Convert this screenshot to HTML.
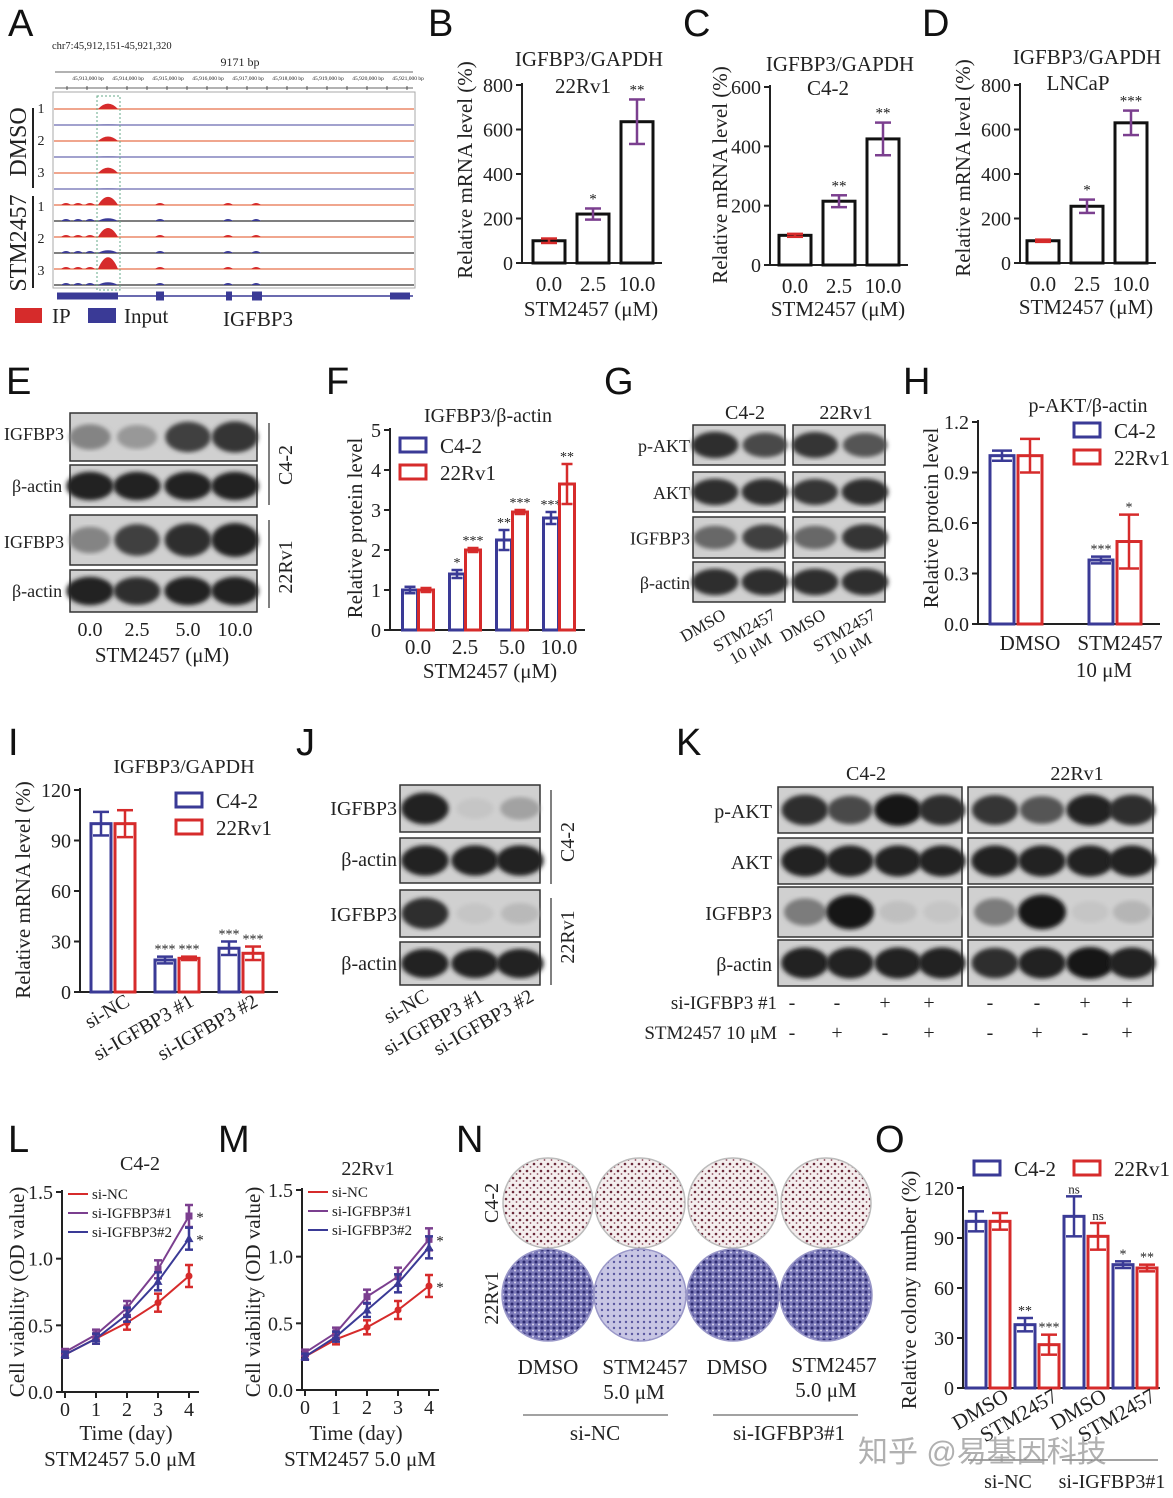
<!DOCTYPE html>
<html><head><meta charset="utf-8"><style>
html,body{margin:0;padding:0;background:#fff;}
svg{display:block;}
</style></head><body>
<svg id="fig" width="1173" height="1498" viewBox="0 0 1173 1498" xmlns="http://www.w3.org/2000/svg">
<defs>
<pattern id="dotsR" width="7" height="7" patternUnits="userSpaceOnUse"><rect width="7" height="7" fill="#f4eeee"/><circle cx="2" cy="2" r="1.3" fill="#6a2a3a"/><circle cx="5.5" cy="5" r="0.9" fill="#8a4a5a"/></pattern>
<pattern id="dotsB" width="6" height="6" patternUnits="userSpaceOnUse"><rect width="6" height="6" fill="#7a78b8"/><circle cx="2" cy="2" r="1.5" fill="#2c2a70"/><circle cx="5" cy="4.5" r="1" fill="#d8d6ee"/></pattern>
<pattern id="dotsB2" width="6" height="6" patternUnits="userSpaceOnUse"><rect width="6" height="6" fill="#c8c6e4"/><circle cx="2" cy="2" r="1.2" fill="#5a58a0"/></pattern>
<filter id="blur"><feGaussianBlur stdDeviation="2.2"/></filter>
</defs>
</svg>
<script>
const NS='http://www.w3.org/2000/svg';
const svg=document.getElementById('fig');
const SERIF='Liberation Serif, serif';
const BLUE='#3a3a96', RED='#d62b2b', PURPLE='#7b3f8f';

// ---------- DATA ----------
const B_cats=['0.0','2.5','10.0']; const B_vals=[100,220,635]; const B_errs=[10,25,100]; const B_sig=['','*','**']; const B_ticks=[0,200,400,600,800];
const C_cats=['0.0','2.5','10.0']; const C_vals=[100,215,425]; const C_errs=[5,20,55]; const C_sig=['','**','**']; const C_ticks=[0,200,400,600];
const D_cats=['0.0','2.5','10.0']; const D_vals=[100,255,630]; const D_errs=[5,30,55]; const D_sig=['','*','***']; const D_ticks=[0,200,400,600,800];
const F_cats=['0.0','2.5','5.0','10.0']; const F_c42=[1.0,1.4,2.25,2.8]; const F_c42e=[0.08,0.1,0.25,0.15]; const F_22=[1.0,2.0,2.95,3.65]; const F_22e=[0.05,0.05,0.05,0.5];
const F_sig42=['','*','**','***']; const F_sig22=['','***','***','**']; const F_ticks=[0,1,2,3,4,5];
const H_cats=['DMSO','STM2457']; const H_c42=[1.0,0.38]; const H_c42e=[0.03,0.02]; const H_22=[1.0,0.49]; const H_22e=[0.1,0.16]; const H_sig42=['','***']; const H_sig22=['','*']; const H_ticks=[0,0.3,0.6,0.9,1.2];
const I_cats=['si-NC','si-IGFBP3 #1','si-IGFBP3 #2']; const I_c42=[100,19,26]; const I_c42e=[7,2,4]; const I_22=[100,20,23]; const I_22e=[8,1,4]; const I_sig42=['','***','***']; const I_sig22=['','***','***']; const I_ticks=[0,30,60,90,120];
const O_cats=['DMSO','STM2457','DMSO','STM2457']; const O_c42=[100,38,103,74]; const O_c42e=[6,4,12,2]; const O_22=[100,26,91,72]; const O_22e=[5,6,8,2]; const O_sig42=['','**','ns','*']; const O_sig22=['','***','ns','**']; const O_ticks=[0,30,60,90,120];
const L_days=[0,1,2,3,4]; const L_nc=[0.28,0.40,0.52,0.67,0.87]; const L_s1=[0.30,0.43,0.63,0.92,1.32]; const L_s2=[0.28,0.40,0.58,0.83,1.15]; const L_ticks=[0,0.5,1.0,1.5];
const M_days=[0,1,2,3,4]; const M_nc=[0.25,0.38,0.47,0.60,0.78]; const M_s1=[0.28,0.43,0.70,0.85,1.13]; const M_s2=[0.25,0.40,0.60,0.80,1.07]; const M_ticks=[0,0.5,1.0,1.5];

// ---------- HELPERS ----------
function mk(tag,attrs,parent){const e=document.createElementNS(NS,tag);for(const k in attrs)e.setAttribute(k,attrs[k]);(parent||svg).appendChild(e);return e;}
function T(x,y,s,o){o=o||{};const t=mk('text',{x:x,y:y,'font-size':o.fs||20,'text-anchor':o.a||'middle','font-family':o.ff||SERIF,fill:o.fill||'#222'});
 if(o.rot)t.setAttribute('transform','rotate('+o.rot+' '+x+' '+y+')');
 t.textContent=s;
 
 
 return t;}
function L(x1,y1,x2,y2,c,w,name){const l=mk('line',{x1:x1,y1:y1,x2:x2,y2:y2,stroke:c||'#222','stroke-width':w||2});
 
 
 return l;}
function letter(x,y,s){T(x,y,s,{fs:38,ff:'Liberation Sans, sans-serif',a:'start',fill:'#111',name:'panel-letter-'+s.toLowerCase()});}
function yaxis(ax,y0,ytop,max,ticks,fmt){
 const ys=v=>y0-v/max*(y0-ytop);
 L(ax,y0,ax,ytop-2,'#222',2,'y-axis');
 ticks.forEach(v=>{L(ax-6,ys(v),ax,ys(v),'#222',2,'y-tick');T(ax-9,ys(v)+7,fmt?fmt(v):String(v),{a:'end',name:'y-tick-label'});});
 return ys;}
function errbar(x,yv,ye,c,w){L(x,yv-ye,x,yv+ye,c,2.5,'error-bar');L(x-w,yv-ye,x+w,yv-ye,c,2.5,'error-cap');L(x-w,yv+ye,x+w,yv+ye,c,2.5,'error-cap');}
function single(ax,y0,ytop,max,ticks,x0,step,cats,vals,errs,sig,xend){
 const ys=yaxis(ax,y0,ytop,max,ticks);
 L(ax,y0,xend,y0,'#222',2,'x-axis');
 cats.forEach((c,i)=>{const cx=x0+i*step;const bw=32;
  const r=mk('rect',{x:cx-bw/2,y:ys(vals[i]),width:bw,height:y0-ys(vals[i]),fill:'#fff',stroke:'#111','stroke-width':3});
  
  
  errbar(cx,ys(vals[i]),(y0-ytop)*errs[i]/max,i==0?RED:PURPLE,8);
  if(sig[i])T(cx,ys(vals[i])-(y0-ytop)*errs[i]/max-5,sig[i],{fs:15,name:'significance'});
  T(cx,y0+28,c,{fs:21,name:'x-tick-label'});});
}
function grouped(ax,y0,ytop,max,ticks,x0,step,bw,off,cats,a,ae,b,be,sa,sb,xend,fmt){
 const ys=yaxis(ax,y0,ytop,max,ticks,fmt);
 L(ax,y0,xend,y0,'#222',2,'x-axis');
 cats.forEach((c,i)=>{const cx=x0+i*step;
  [[a,ae,sa,BLUE,-off],[b,be,sb,RED,off]].forEach(s=>{const v=s[0][i],e=s[1][i],bx=cx+s[4];
   const r=mk('rect',{x:bx-bw/2,y:ys(v),width:bw,height:y0-ys(v),fill:'#fff',stroke:s[3],'stroke-width':3});
   
   
   const eh=(y0-ytop)*e/max;
   errbar(bx,ys(v),eh,s[3],bw/2-2);
   if(s[2][i])T(bx,ys(v)-eh-3,s[2][i],{fs:s[2][i]=='ns'?13:14,name:'significance'});});});
 return ys;}
function legendBox(x,y,c,label){const r=mk('rect',{x:x,y:y,width:26,height:14,fill:'#fff',stroke:c,'stroke-width':3});
 
 
 T(x+40,y+15,label,{a:'start',fs:21,name:'legend-entry'});}
function blot(x,y,w,h,lanes,ints,name,wide){
 const g=mk('g',{});
 
 
 mk('rect',{x:x,y:y,width:w,height:h,fill:'#d0d0d0',stroke:'#333','stroke-width':1.5},g);
 lanes.forEach((lx,i)=>{const v=ints[i];const gr=Math.round(220-195*v);
  mk('ellipse',{cx:lx,cy:y+h/2,rx:(wide||24)*(0.75+0.25*v),ry:h*0.33*(0.6+0.45*v),fill:'rgb('+gr+','+gr+','+gr+')',filter:'url(#blur)'},g);});
}
function lineChart(ax,y0,ytop,max,ticks,x0,xstep,days,series,labels,colors,shapes,sig){
 const ys=yaxis(ax,y0,ytop,max,ticks,v=>v.toFixed(1));
 const xs=d=>x0+d*xstep;
 L(ax,y0,xs(4)+10,y0,'#222',2,'x-axis');
 days.forEach(d=>{L(xs(d),y0,xs(d),y0+6,'#222',2,'x-tick');T(xs(d),y0+24,String(d),{fs:20,name:'x-tick-label'});});
 series.forEach((s,k)=>{const p=mk('polyline',{points:s.map((v,i)=>xs(days[i])+','+ys(v)).join(' '),fill:'none',stroke:colors[k],'stroke-width':2});
  
  
  s.forEach((v,i)=>{const px=xs(days[i]),py=ys(v);
   errbar(px,py,3+i*2,colors[k],4);
   let m;
   if(shapes[k]=='c')m=mk('circle',{cx:px,cy:py,r:3.5,fill:colors[k]});
   else if(shapes[k]=='s')m=mk('rect',{x:px-3.5,y:py-3.5,width:7,height:7,fill:colors[k]});
   else m=mk('polygon',{points:(px)+','+(py-4.5)+' '+(px-4.5)+','+(py+3.5)+' '+(px+4.5)+','+(py+3.5),fill:colors[k]});
   
   });
  if(sig[k])T(xs(4)+11,ys(s[4])+6,sig[k],{fs:15,name:'significance'});});
 labels.forEach((lb,k)=>{const ly=ytop+2+k*19;const lx=ax+6;
  L(lx,ly,lx+20,ly,colors[k],2,'legend-line');
  T(lx+24,ly+5,lb,{a:'start',fs:15,name:'legend-entry'});});
}

// ---------- PANEL A ----------
letter(8,36,'A');
T(52,49,'chr7:45,912,151-45,921,320',{a:'start',fs:10.5,name:'locus'});
T(240,66,'9171 bp',{fs:12,name:'span'});
L(55,72,413,72,'#333',0.8,'ruler');
L(55,88,413,88,'#333',0.8,'ruler-axis');
for(let i=0;i<9;i++)T(88+i*40,80,'45,9'+(13+i)+',000 bp',{fs:5.5,name:'ruler-label'});
for(let i=0;i<18;i++)L(67+i*20,86,67+i*20,90,'#333',0.8,'ruler-tick');
const ab=mk('rect',{x:53,y:92,width:362,height:196,fill:'none',stroke:'#aaa','stroke-width':1});


const peakH=[[6,0],[5,1],[6,1],[9,3],[10,3],[13,3]];
for(let t=0;t<12;t++){const by=109+t*16;const ip=t%2==0;const c=ip?RED:BLUE;
 L(54,by,414,by,ip?'#e8704a':(t<6?'#6a6ab0':'#333'),1.2,ip?'ip-track':'input-track');
 const s=Math.floor(t/2), stm=t>=6;
 const ph=ip?peakH[s][0]:(stm?peakH[s][1]:0.5);
 const pk=mk('path',{d:'M98,'+by+' Q108,'+(by-ph*1.8)+' 118,'+by+' Z',fill:c});
 
 
 if(stm){[[66,2],[78,2],[90,2],[160,2],[228,2],[256,2]].forEach(q=>{const r=mk('path',{d:'M'+(q[0]-5)+','+by+' Q'+q[0]+','+(by-q[1]*2)+' '+(q[0]+5)+','+by+' Z',fill:c});
  
  });}
}
const db=mk('rect',{x:97,y:96,width:23,height:194,fill:'none',stroke:'#6a8','stroke-width':1,'stroke-dasharray':'2,2'});


L(57,296,413,296,BLUE,1.5,'gene-model');
[[57,118,7],[156,164,9],[226,232,9],[252,262,9],[390,410,7]].forEach(e=>{const r=mk('rect',{x:e[0],y:296-e[2]/2,width:e[1]-e[0],height:e[2],fill:BLUE});
 
 });
L(33,108,33,188,'#222',2,'dmso-bracket');
L(33,196,33,288,'#222',2,'stm-bracket');
T(26,142,'DMSO',{fs:24,rot:-90,name:'group-label'});
T(26,243,'STM2457',{fs:24,rot:-90,name:'group-label'});
['1','2','3'].forEach((n,i)=>{T(41,113+i*32,n,{fs:14,name:'replicate'});T(41,211+i*32,n,{fs:14,name:'replicate'});});
const ipl=mk('rect',{x:15,y:308,width:27,height:15,fill:RED});
T(52,323,'IP',{a:'start',fs:21,name:'legend-entry'});
const inl=mk('rect',{x:88,y:308,width:28,height:15,fill:BLUE});
T(124,323,'Input',{a:'start',fs:21,name:'legend-entry'});
T(258,326,'IGFBP3',{fs:21,name:'gene-label'});

// ---------- B C D ----------
letter(428,36,'B');
T(589,66,'IGFBP3/GAPDH',{fs:21,name:'chart-title'});T(583,93,'22Rv1',{fs:21,name:'chart-subtitle'});
T(472,170,'Relative mRNA level (%)',{fs:21,rot:-90,name:'y-axis-title'});
single(522,263,85,800,B_ticks,549,44,B_cats,B_vals,B_errs,B_sig,662);
T(591,316,'STM2457 (μM)',{fs:21,name:'x-axis-title'});
letter(683,36,'C');
T(840,71,'IGFBP3/GAPDH',{fs:21,name:'chart-title'});T(828,95,'C4-2',{fs:21,name:'chart-subtitle'});
T(727,175,'Relative mRNA level (%)',{fs:21,rot:-90,name:'y-axis-title'});
single(770,265,87,600,C_ticks,795,44,C_cats,C_vals,C_errs,C_sig,908);
T(838,316,'STM2457 (μM)',{fs:21,name:'x-axis-title'});
letter(922,36,'D');
T(1087,64,'IGFBP3/GAPDH',{fs:21,name:'chart-title'});T(1078,90,'LNCaP',{fs:21,name:'chart-subtitle'});
T(970,168,'Relative mRNA level (%)',{fs:21,rot:-90,name:'y-axis-title'});
single(1020,263,85,800,D_ticks,1043,44,D_cats,D_vals,D_errs,D_sig,1156);
T(1086,314,'STM2457 (μM)',{fs:21,name:'x-axis-title'});

// ---------- E ----------
letter(6,394,'E');
const E_l=[90,137,188,235];
blot(70,413,187,48,E_l,[0.45,0.35,0.8,0.85],'blot-igfbp3-c42');
blot(70,465,187,42,E_l,[0.95,0.95,0.95,0.95],'blot-actin-c42');
blot(70,515,187,50,E_l,[0.45,0.8,0.9,0.95],'blot-igfbp3-22rv1');
blot(70,570,187,42,E_l,[0.95,0.9,0.95,0.95],'blot-actin-22rv1');
T(4,440,'IGFBP3',{a:'start',fs:18,name:'row-label'});T(12,492,'β-actin',{a:'start',fs:18,name:'row-label'});
T(4,548,'IGFBP3',{a:'start',fs:18,name:'row-label'});T(12,597,'β-actin',{a:'start',fs:18,name:'row-label'});
L(269,423,269,505,'#555',1.5,'bracket');L(269,520,269,608,'#555',1.5,'bracket');
T(292,465,'C4-2',{fs:20,rot:-90,name:'cell-line-label'});T(292,567,'22Rv1',{fs:20,rot:-90,name:'cell-line-label'});
['0.0','2.5','5.0','10.0'].forEach((s,i)=>T(E_l[i],636,s,{fs:20,name:'dose-label'}));
T(162,662,'STM2457 (μM)',{fs:21,name:'x-axis-title'});

// ---------- F ----------
letter(326,394,'F');
T(488,422,'IGFBP3/β-actin',{fs:20,name:'chart-title'});
T(362,528,'Relative protein level',{fs:21,rot:-90,name:'y-axis-title'});
grouped(390,630,430,5,F_ticks,418,47,15,8,F_cats,F_c42,F_c42e,F_22,F_22e,F_sig42,F_sig22,585);
F_cats.forEach((c,i)=>T(418+i*47,654,c,{fs:21,name:'x-tick-label'}));
T(490,678,'STM2457 (μM)',{fs:21,name:'x-axis-title'});
legendBox(400,438,BLUE,'C4-2');legendBox(400,465,RED,'22Rv1');

// ---------- G ----------
letter(604,394,'G');
T(745,419,'C4-2',{fs:20,name:'cell-line-label'});T(846,419,'22Rv1',{fs:20,name:'cell-line-label'});
const G_rows=[[425,40,'p-AKT',[0.9,0.75],[0.85,0.7]],[472,40,'AKT',[0.9,0.9],[0.85,0.9]],[517,41,'IGFBP3',[0.6,0.8],[0.6,0.85]],[562,40,'β-actin',[0.9,0.9],[0.9,0.9]]];
G_rows.forEach(r=>{blot(693,r[0],92,r[1],[715,765],r[3],'blot-'+r[2]+'-c42');blot(793,r[0],92,r[1],[815,865],r[4],'blot-'+r[2]+'-22rv1');
 T(690,r[0]+r[1]/2+7,r[2],{a:'end',fs:18,name:'row-label'});});
[[715,'DMSO'],[765,'STM2457'],[815,'DMSO'],[865,'STM2457']].forEach(q=>T(q[0]+12,618,q[1],{a:'end',fs:17,rot:-30,name:'lane-label'}));
[765,865].forEach(x=>T(x+8,642,'10 μM',{a:'end',fs:17,rot:-30,name:'lane-label'}));

// ---------- H ----------
letter(903,394,'H');
T(1088,412,'p-AKT/β-actin',{fs:20,name:'chart-title'});
T(938,518,'Relative protein level',{fs:21,rot:-90,name:'y-axis-title'});
grouped(978,624,422,1.2,H_ticks,1016,99,24,14,H_cats,H_c42,H_c42e,H_22,H_22e,H_sig42,H_sig22,1160,v=>v.toFixed(1));
T(1030,650,'DMSO',{fs:21,name:'x-tick-label'});T(1120,650,'STM2457',{fs:21,name:'x-tick-label'});T(1104,677,'10 μM',{fs:21,name:'x-tick-label'});
legendBox(1074,423,BLUE,'C4-2');legendBox(1074,450,RED,'22Rv1');

// ---------- I ----------
letter(8,755,'I');
T(184,773,'IGFBP3/GAPDH',{fs:20,name:'chart-title'});
T(30,890,'Relative mRNA level (%)',{fs:21,rot:-90,name:'y-axis-title'});
grouped(80,992,790,120,I_ticks,113,64,20,12,I_cats,I_c42,I_c42e,I_22,I_22e,I_sig42,I_sig22,278);
I_cats.forEach((c,i)=>T(113+i*64+18,1005,c,{a:'end',fs:20,rot:-30,name:'x-tick-label'}));
legendBox(176,793,BLUE,'C4-2');legendBox(176,820,RED,'22Rv1');

// ---------- J ----------
letter(296,755,'J');
const J_l=[425,475,520];
blot(400,785,140,47,J_l,[0.95,0.12,0.3],'blot-igfbp3-c42');
blot(400,838,140,45,J_l,[0.95,0.95,0.95],'blot-actin-c42');
blot(400,890,140,47,J_l,[0.9,0.12,0.18],'blot-igfbp3-22rv1');
blot(400,942,140,43,J_l,[0.95,0.95,0.95],'blot-actin-22rv1');
T(397,815,'IGFBP3',{a:'end',fs:20,name:'row-label'});T(397,866,'β-actin',{a:'end',fs:20,name:'row-label'});
T(397,921,'IGFBP3',{a:'end',fs:20,name:'row-label'});T(397,970,'β-actin',{a:'end',fs:20,name:'row-label'});
L(551,790,551,884,'#555',1.5,'bracket');L(551,898,551,985,'#555',1.5,'bracket');
T(574,842,'C4-2',{fs:20,rot:-90,name:'cell-line-label'});T(574,937,'22Rv1',{fs:20,rot:-90,name:'cell-line-label'});
['si-NC','si-IGFBP3 #1','si-IGFBP3 #2'].forEach((s,i)=>T([430,485,535][i],1000,s,{a:'end',fs:20,rot:-30,name:'lane-label'}));

// ---------- K ----------
letter(676,755,'K');
T(866,780,'C4-2',{fs:20,name:'cell-line-label'});T(1077,780,'22Rv1',{fs:20,name:'cell-line-label'});
const K_l1=[805,850,898,942], K_l2=[995,1042,1090,1132];
const K_rows=[[787,46,'p-AKT',[0.9,0.75,1,0.9],[0.85,0.7,0.95,0.9]],[838,46,'AKT',[0.95,0.95,0.95,0.95],[0.95,0.95,0.95,0.95]],[887,50,'IGFBP3',[0.5,1,0.15,0.12],[0.5,1,0.12,0.2]],[940,46,'β-actin',[0.95,0.95,0.95,0.95],[0.9,0.95,1,0.95]]];
K_rows.forEach(r=>{blot(778,r[0],184,r[1],K_l1,r[3],'blot-'+r[2]+'-c42');blot(968,r[0],185,r[1],K_l2,r[4],'blot-'+r[2]+'-22rv1');
 T(772,r[0]+r[1]/2+8,r[2],{a:'end',fs:20,name:'row-label'});});
T(777,1009,'si-IGFBP3 #1',{a:'end',fs:19,name:'condition-label'});
T(777,1039,'STM2457 10 μM',{a:'end',fs:19,name:'condition-label'});
const K_si=['-','-','+','+','-','-','+','+'], K_stm=['-','+','-','+','-','+','-','+'];
K_l1.concat(K_l2).forEach((x,i)=>{T(x-5+(i<4?-8:0),1009,K_si[i],{fs:20,name:'condition-sign'});T(x-5+(i<4?-8:0),1039,K_stm[i],{fs:20,name:'condition-sign'});});

// ---------- L ----------
letter(8,1152,'L');
T(140,1170,'C4-2',{fs:20,name:'chart-title'});
T(24,1292,'Cell viability (OD value)',{fs:21,rot:-90,name:'y-axis-title'});
lineChart(62,1392,1192,1.5,L_ticks,65,31,L_days,[L_nc,L_s1,L_s2],['si-NC','si-IGFBP3#1','si-IGFBP3#2'],[RED,PURPLE,BLUE],['c','s','t'],['','*','*']);
T(126,1440,'Time (day)',{fs:21,name:'x-axis-title'});T(120,1466,'STM2457 5.0 μM',{fs:21,name:'x-axis-subtitle'});
// ---------- M ----------
letter(218,1152,'M');
T(368,1175,'22Rv1',{fs:20,name:'chart-title'});
T(260,1292,'Cell viability (OD value)',{fs:21,rot:-90,name:'y-axis-title'});
lineChart(302,1390,1190,1.5,M_ticks,305,31,M_days,[M_nc,M_s1,M_s2],['si-NC','si-IGFBP3#1','si-IGFBP3#2'],[RED,PURPLE,BLUE],['c','s','t'],['*','*','']);
T(356,1440,'Time (day)',{fs:21,name:'x-axis-title'});T(360,1466,'STM2457 5.0 μM',{fs:21,name:'x-axis-subtitle'});

// ---------- N ----------
letter(456,1152,'N');
T(498,1203,'C4-2',{fs:20,rot:-90,name:'row-label'});T(498,1298,'22Rv1',{fs:20,rot:-90,name:'row-label'});
[548,640,733,826].forEach((cx,i)=>{
 const d1=mk('circle',{cx:cx,cy:1203,r:45,fill:'url(#dotsR)',stroke:'#bbb','stroke-width':1.5});
 
 
 const d2=mk('circle',{cx:cx,cy:1295,r:46,fill:(i==1?'url(#dotsB2)':'url(#dotsB)'),stroke:'#9a98c8','stroke-width':1.5});
 
 });
T(548,1374,'DMSO',{fs:21,name:'dish-label'});T(645,1374,'STM2457',{fs:21,name:'dish-label'});T(634,1399,'5.0 μM',{fs:21,name:'dish-label'});
T(737,1374,'DMSO',{fs:21,name:'dish-label'});T(834,1372,'STM2457',{fs:21,name:'dish-label'});T(826,1397,'5.0 μM',{fs:21,name:'dish-label'});
L(523,1415,668,1415,'#444',1,'group-line');L(713,1415,858,1415,'#444',1,'group-line');
T(595,1440,'si-NC',{fs:21,name:'group-label'});T(789,1440,'si-IGFBP3#1',{fs:21,name:'group-label'});

// ---------- O ----------
letter(875,1152,'O');
T(916,1290,'Relative colony number (%)',{fs:21,rot:-90,name:'y-axis-title'});
grouped(963,1388,1188,120,O_ticks,988,49,20,12,O_cats,O_c42,O_c42e,O_22,O_22e,O_sig42,O_sig22,1160);
O_cats.forEach((c,i)=>T(988+i*49+22,1400,c,{a:'end',fs:21,rot:-30,name:'x-tick-label'}));
legendBox(974,1161,BLUE,'C4-2');legendBox(1074,1161,RED,'22Rv1');
L(968,1460,1048,1460,'#444',1,'group-line');L(1062,1460,1158,1460,'#444',1,'group-line');
T(1008,1488,'si-NC',{fs:20,name:'group-label'});T(1112,1488,'si-IGFBP3#1',{fs:20,name:'group-label'});

// watermark
T(858,1462,'知乎 @易基因科技',{a:'start',fs:30,ff:'Liberation Sans, Noto Sans CJK SC, sans-serif',fill:'rgba(150,150,150,0.75)',name:'watermark'});
</script>
</body></html>
